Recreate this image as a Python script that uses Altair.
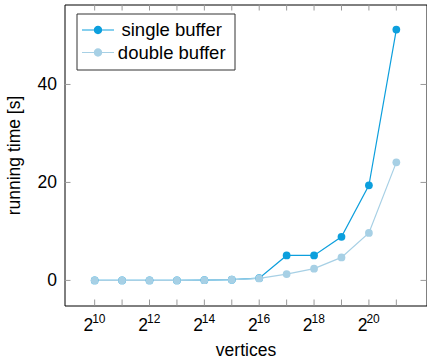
import altair as alt
import pandas as pd

# ---- data ----
exponents = [10, 11, 12, 13, 14, 15, 16, 17, 18, 19, 20, 21]
single_buffer = [0.0, 0.0, 0.0, 0.0, 0.05, 0.15, 0.45, 5.1, 5.1, 8.9, 19.4, 51.2]
double_buffer = [0.0, 0.0, 0.0, 0.0, 0.05, 0.15, 0.4, 1.3, 2.4, 4.7, 9.7, 24.1]
series_names = ["single buffer", "double buffer"]
series_colors = ["#0C9FDD", "#A7D0E5"]
label_exponents = [10, 12, 14, 16, 18, 20]
y_tick_values = [0, 20, 40]

FONT = "Liberation Sans"
FS = 17.5
W, H = 362, 301

rows = []
for name, vals in zip(series_names, [single_buffer, double_buffer]):
    for k, v in zip(exponents, vals):
        rows.append({"vertices": 2 ** k, "time": v, "series": name})
df = pd.DataFrame(rows)

df_xticks = pd.DataFrame({"vertices": [2 ** k for k in exponents]})
df_yticks = pd.DataFrame({"time": y_tick_values})
df_xlab = pd.DataFrame({"vertices": [2 ** k for k in label_exponents],
                        "base": ["2"] * len(label_exponents),
                        "exp": [str(k) for k in label_exponents]})

xscale = alt.Scale(type="log", base=2, domain=[2 ** 8.9, 2 ** 22.1], nice=False)
yscale = alt.Scale(domain=[-5.12, 56.32], nice=False, zero=False)
cscale = alt.Scale(domain=series_names, range=series_colors)

# legend symbol: line + dot as one filled path (unit coords, 11 px per unit);
# zero-area segments only widen the entry's bounds for the legend box
sym = ("M0,-1L0,1"
       "M12.3,0L12.3,0.01"
       "M-1,-0.055L1.909,-0.055L1.909,0.055L-1,0.055Z"
       "M0.0745,0A0.38,0.38,0,1,1,0.8345,0A0.38,0.38,0,1,1,0.0745,0Z")

lines = alt.Chart(df).mark_line(strokeWidth=1.2, clip=False).encode(
    x=alt.X("vertices:Q", scale=xscale,
            axis=alt.Axis(labels=False, ticks=False, domain=False, grid=False,
                          title="vertices", titleFont=FONT, titleFontSize=FS,
                          titleFontWeight="normal", titleColor="black",
                          titleX=W / 2, titleY=50, titleBaseline="alphabetic",
                          titleAlign="center")),
    y=alt.Y("time:Q", scale=yscale,
            axis=alt.Axis(values=y_tick_values, ticks=False, domain=False, grid=False,
                          labelFont=FONT, labelFontSize=FS, labelColor="black",
                          labelPadding=8, title="running time [s]", titleFont=FONT,
                          titleFontSize=FS, titleFontWeight="normal", titleColor="black",
                          titleX=-41, titleY=H / 2, titleAngle=270,
                          titleBaseline="bottom", titleAlign="center")),
    stroke=alt.Stroke("series:N", sort=series_names,
                      scale=alt.Scale(range=series_colors), legend=None),
    detail="series:N",
    order=alt.Order("vertices:Q"),
)

points = alt.Chart(df).mark_circle(size=60, opacity=1).encode(
    x=alt.X("vertices:Q", scale=xscale),
    y=alt.Y("time:Q", scale=yscale),
    color=alt.Color("series:N", scale=cscale,
                    legend=alt.Legend(title=None, orient="none", legendX=12, legendY=9,
                                      symbolType=sym, symbolSize=484,
                                      symbolStrokeWidth=0, symbolOpacity=1,
                                      labelFont=FONT, labelFontSize=18.5, labelColor="black",
                                      labelAlign="center", labelBaseline="middle",
                                      labelOffset=67.7, rowPadding=0.5,
                                      padding=5.5, fillColor="white",
                                      strokeColor="#333333", cornerRadius=0)),
)

tick_style = dict(color="#999999", strokeWidth=1)
xt_bottom = alt.Chart(df_xticks).mark_rule(**tick_style).encode(
    x=alt.X("vertices:Q", scale=xscale), y=alt.value(H - 6), y2=alt.value(H))
xt_top = alt.Chart(df_xticks).mark_rule(**tick_style).encode(
    x=alt.X("vertices:Q", scale=xscale), y=alt.value(0), y2=alt.value(6))
yt_left = alt.Chart(df_yticks).mark_rule(**tick_style).encode(
    y=alt.Y("time:Q", scale=yscale), x=alt.value(0), x2=alt.value(6))
yt_right = alt.Chart(df_yticks).mark_rule(**tick_style).encode(
    y=alt.Y("time:Q", scale=yscale), x=alt.value(W - 6), x2=alt.value(W))

lab_base = alt.Chart(df_xlab).mark_text(align="right", baseline="alphabetic", dx=-1.5,
                                        font=FONT, fontSize=FS, color="black").encode(
    x=alt.X("vertices:Q", scale=xscale), y=alt.value(H + 25.7), text="base:N")
lab_exp = alt.Chart(df_xlab).mark_text(align="left", baseline="alphabetic", dx=-2.5,
                                       font=FONT, fontSize=12, color="black").encode(
    x=alt.X("vertices:Q", scale=xscale), y=alt.value(H + 17.5), text="exp:N")

chart = alt.layer(
    xt_bottom, xt_top, yt_left, yt_right, lines, points, lab_base, lab_exp
).properties(
    width=W, height=H,
    background="white",
    autosize=alt.AutoSizeParams(type="none"),
    padding={"left": 64.5, "top": 4.5, "right": 0.5, "bottom": 53.5},
).configure_view(stroke="black", strokeWidth=1)

chart.save("out.html", embed_options={"renderer": "svg", "actions": False})
